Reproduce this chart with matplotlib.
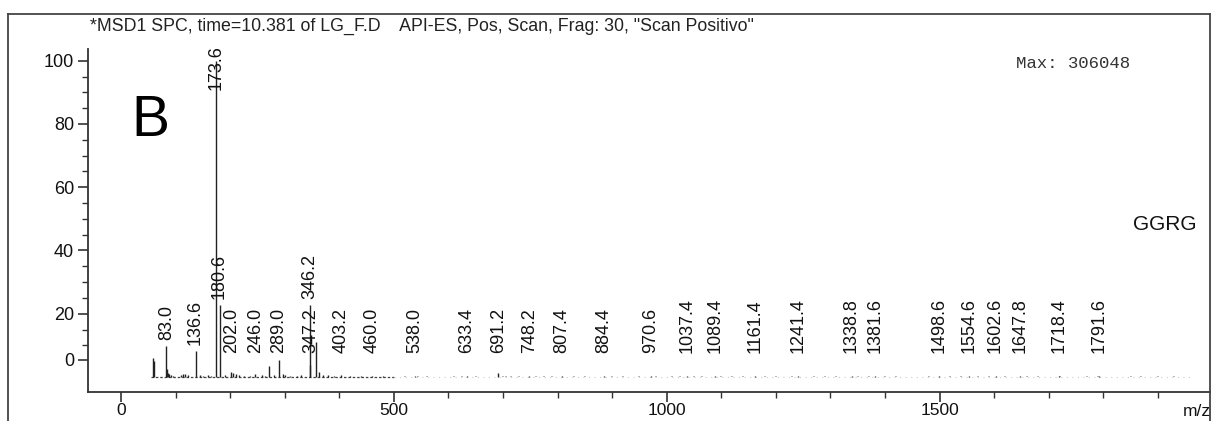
import matplotlib
matplotlib.use("Agg")
import matplotlib.pyplot as plt
from matplotlib.lines import Line2D
from matplotlib.ticker import FixedLocator

# ---------------- data ----------------
# labelled peaks (m/z, relative abundance %)
label_mz = [83.0, 136.6, 173.6, 180.6, 202.0, 246.0, 289.0, 347.2, 346.2, 403.2,
            460.0, 538.0, 633.4, 691.2, 748.2, 807.4, 884.4, 970.6, 1037.4, 1089.4,
            1161.4, 1241.4, 1338.8, 1381.6, 1498.6, 1554.6, 1602.6, 1647.8, 1718.4,
            1791.6]
label_h = [9.9, 8.2, 100.0, 22.8, 1.5, 1.0, 5.4, 3.8, 22.8, 0.7,
           0.3, 0.3, 0.3, 1.2, 0.3, 0.3, 0.3, 0.3, 0.3, 0.3,
           0.3, 0.3, 0.3, 0.3, 0.3, 0.3, 0.3, 0.3, 0.3,
           0.3]

# unlabelled peaks in the low-mass region (dark)
minor_mz = [58, 61, 84, 86, 88, 92, 96, 110, 113, 118, 122, 145, 150, 160, 165,
            190, 205, 210, 216, 225, 236, 258, 264, 272, 280, 296, 300, 310, 322,
            330, 358, 362, 370, 380, 390, 420, 440, 480]
minor_h = [6.1, 5.1, 2.5, 1.2, 0.8, 0.5, 0.4, 0.6, 0.8, 0.8, 0.5, 0.6, 0.4, 0.5, 0.4,
           0.5, 1.2, 0.8, 0.5, 0.4, 0.4, 0.5, 0.4, 3.6, 0.5, 0.8, 0.5, 0.4, 0.4,
           0.5, 11.0, 1.5, 0.5, 0.5, 0.4, 0.3, 0.3, 0.3]

# faint noise peaks at high mass (grey)
faint_mz = [520, 545, 560, 610, 625, 650, 700, 705, 715, 730, 760, 775, 790, 830,
            850, 900, 920, 950, 980, 1010, 1025, 1050, 1065, 1100, 1120, 1140, 1180,
            1200, 1230, 1270, 1290, 1310, 1350, 1370, 1400, 1420, 1480, 1520, 1540,
            1570, 1590, 1620, 1660, 1680, 1720, 1770, 1790, 1850, 1870, 1900, 1930]
faint_h = [0.4] * len(faint_mz)

y_tick_vals = [5.5, 20, 40, 60, 80, 100]
y_tick_labels = ["0", "20", "40", "60", "80", "100"]
x_tick_vals = [0, 500, 1000, 1500]

title = '*MSD1 SPC, time=10.381 of LG_F.D    API-ES, Pos, Scan, Frag: 30, "Scan Positivo"'
max_text = "Max: 306048"
sample = "GGRG"
panel = "B"

# ---------------- figure ----------------
W, H = 1213, 421
fig = plt.figure(figsize=(W / 100, H / 100), dpi=100)
plt.rcParams['font.family'] = ['Liberation Sans', 'DejaVu Sans']

def fx(px):
    return px / W

def fy(py):
    return 1 - py / H

ax = fig.add_axes([fx(88), fy(392), fx(1210) - fx(88), fy(49) - fy(392)])
ax.set_xlim(-60.5, 1995.6)
ax.set_ylim(-4.75, 103.7)

# baseline traces
ax.plot([55, 500], [0, 0], color="#444444", lw=0.9, ls=(0, (2, 1.5)))
ax.plot([500, 1960], [0, 0], color="#cccccc", lw=0.8, ls=(0, (1, 4)))

# stems
ax.vlines(faint_mz, 0, faint_h, color="#aaaaaa", lw=1.2)
ax.vlines(minor_mz, 0, minor_h, color="#222222", lw=1.0)
ax.vlines(label_mz, 0, label_h, color="#222222", lw=1.0)

# labels
for mz, h in zip(label_mz, label_h):
    if h > 90:
        ax.text(mz, 104.8, f"{mz:.1f}", rotation=90, ha="center", va="top",
                fontsize=13, color="#111111", clip_on=False)
    else:
        ax.text(mz, max(h + 1.8, 7.6), f"{mz:.1f}", rotation=90, ha="center",
                va="bottom", fontsize=13, color="#111111")

# spines / ticks
for s in ["top", "right"]:
    ax.spines[s].set_visible(False)
for s in ["left", "bottom"]:
    ax.spines[s].set_color("#333333")
    ax.spines[s].set_linewidth(1.3)

ax.yaxis.set_major_locator(FixedLocator(y_tick_vals))
ax.set_yticklabels(y_tick_labels)
ax.yaxis.set_minor_locator(FixedLocator([v for v in range(10, 100, 5) if v % 20 != 0]))
ax.xaxis.set_major_locator(FixedLocator(x_tick_vals))
ax.xaxis.set_minor_locator(FixedLocator([v for v in range(100, 2000, 100) if v % 500 != 0]))
ax.tick_params(axis="both", which="major", length=7, width=1.2, color="#333333",
               labelsize=13, labelcolor="#111111", direction="out")
ax.tick_params(axis="x", which="major", labelsize=12.5, pad=1)
ax.tick_params(axis="both", which="minor", length=4, width=1.0, color="#333333",
               direction="out")
ax.tick_params(axis="y", pad=3)

# texts
fig.text(fx(90), fy(26), title, fontsize=12.8, color="#222222", va="center", ha="left")
fig.text(fx(1016), fy(64), max_text, fontsize=12.5, color="#333333", va="center",
         ha="left", family=["Liberation Mono", "DejaVu Sans Mono"])
fig.text(fx(1197), fy(224), sample, fontsize=15, color="#111111", va="center", ha="right")
fig.text(fx(131), fy(121), panel, fontsize=41, color="#000000", va="center", ha="left")
fig.text(fx(1197), fy(411), "m/z", fontsize=12.5, color="#111111", va="center", ha="center")

# outer frame
frame_kw = dict(color="#444444", lw=1.3, transform=fig.transFigure)
fig.add_artist(Line2D([fx(8), fx(8)], [fy(14), 0], **frame_kw))
fig.add_artist(Line2D([fx(8), fx(1210)], [fy(14), fy(14)], **frame_kw))
fig.add_artist(Line2D([fx(1210), fx(1210)], [fy(14), 0], **frame_kw))

fig.savefig("out.png", dpi=100, facecolor="white")
